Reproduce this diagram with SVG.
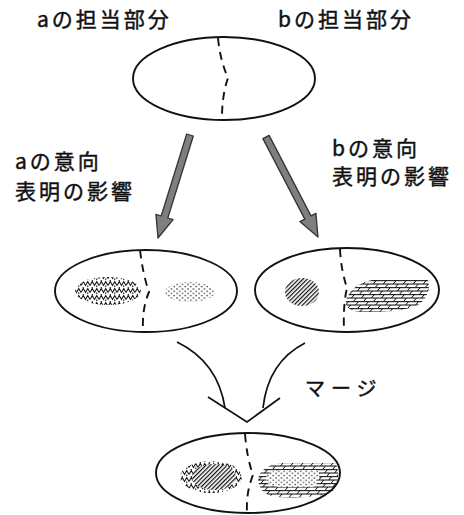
<svg xmlns="http://www.w3.org/2000/svg" width="464" height="515" viewBox="0 0 464 515">
<style>
  .lbl { font-family: "Noto Sans CJK JP", "Noto Sans", sans-serif; font-size: 21px; letter-spacing: 3px; fill: #111; stroke: #111; stroke-width: 0.45; }
  .oval { fill: none; stroke: #111; stroke-width: 1.9; }
  .split { fill: none; stroke: #111; stroke-width: 1.9; stroke-dasharray: 8 6; }
  .garrow { fill: #7f7f7f; stroke: #333; stroke-width: 1.3; stroke-linejoin: round; }
  .line { fill: none; stroke: #111; stroke-width: 1.7; }
</style>
<defs>
  <pattern id="zig" width="9" height="7" patternUnits="userSpaceOnUse">
    <path d="M0 5.5 L2.25 1.5 L4.5 5.5 L6.75 1.5 L9 5.5 M2.25 1.5 V0 M6.75 5.5 V7" fill="none" stroke="#111" stroke-width="1.1"/>
  </pattern>
  <pattern id="brick" width="10" height="7" patternUnits="userSpaceOnUse" patternTransform="skewX(-40)">
    <path d="M0 0.5 H10 M0 4 H10 M1.5 0.5 V4 M6.5 4 V7.5" fill="none" stroke="#111" stroke-width="1.1"/>
  </pattern>
  <pattern id="hatch" width="3" height="3" patternUnits="userSpaceOnUse" patternTransform="rotate(45)">
    <line x1="0.6" y1="0" x2="0.6" y2="3" stroke="#111" stroke-width="1.3"/>
  </pattern>
  <pattern id="dots" width="5.5" height="4.5" patternUnits="userSpaceOnUse">
    <circle cx="1" cy="1" r="0.75" fill="#111"/>
    <circle cx="3.75" cy="3.25" r="0.75" fill="#111"/>
  </pattern>
</defs>

<g id="label-a-part"><text class="lbl" x="37" y="27">aの担当部分</text></g>
<g id="label-b-part"><text class="lbl" x="278" y="27">bの担当部分</text></g>

<g id="node-original">
  <ellipse class="oval" cx="224" cy="78.5" rx="91" ry="41.5"/>
  <path class="split" d="M218 38 Q220 60 228 78 Q222 95 222 118"/>
</g>

<g id="label-a-influence">
  <text class="lbl" x="15" y="169">aの意向</text>
  <text class="lbl" x="15" y="199">表明の影響</text>
</g>
<g id="label-b-influence">
  <text class="lbl" x="332" y="156">bの意向</text>
  <text class="lbl" x="332" y="184">表明の影響</text>
</g>

<g id="node-a-result">
  <ellipse class="oval" cx="146" cy="291" rx="91" ry="41"/>
  <path class="split" d="M140 250 Q143 275 149 292 Q142 308 143 330"/>
  <ellipse cx="108" cy="291" rx="33" ry="14" fill="url(#zig)"/>
  <ellipse cx="190" cy="292" rx="25" ry="10" fill="url(#dots)"/>
</g>

<g id="node-b-result">
  <ellipse class="oval" cx="347" cy="290" rx="92" ry="42"/>
  <path class="split" d="M340 249 Q341 270 347 288 Q343 305 344 330"/>
  <ellipse cx="302" cy="292" rx="17" ry="14" fill="url(#hatch)"/>
  <path d="M346 300 Q352 284 372 280 L428 280 Q432 292 420 304 Q404 313 360 312 Q344 310 346 300 Z" fill="url(#brick)"/>
</g>

<g id="node-merged">
  <ellipse class="oval" cx="248" cy="473" rx="92" ry="40"/>
  <path class="split" d="M245 434 Q247 458 253 475 Q246 492 247 512"/>
  <ellipse cx="211" cy="477" rx="31" ry="16" fill="url(#zig)"/>
  <ellipse cx="214" cy="477" rx="22" ry="13" fill="#fff"/>
  <ellipse cx="214" cy="477" rx="22" ry="13" fill="url(#hatch)"/>
  <path d="M258 478 Q262 466 280 463 L336 463 Q342 480 332 492 Q316 499 276 497 Q258 494 258 478 Z" fill="url(#brick)"/>
  <path d="M266 478 Q268 470 282 470 L318 470 Q322 478 314 487 L278 487 Q266 486 266 478 Z" fill="#fff"/>
  <path d="M266 478 Q268 470 282 470 L318 470 Q322 478 314 487 L278 487 Q266 486 266 478 Z" fill="url(#dots)"/>
</g>

<g id="connectors">
  <polygon class="garrow" points="186.7,134.0 193.3,136.0 167.8,218.0 173.1,219.7 158,238 155.9,214.3 161.2,216.0"/>
  <polygon class="garrow" points="262.9,138.6 269.1,135.4 311.0,215.9 315.9,213.4 318,237 299.9,221.6 304.8,219.1"/>
  <path class="line" d="M177 342 Q218 362 225 408"/>
  <path class="line" d="M305 343 Q268 362 263 408"/>
  <path class="line" d="M208 397 L247 422 L280 398"/>
</g>

<g id="label-merge"><text class="lbl" x="305" y="396" style="font-size:20px;letter-spacing:6px">マージ</text></g>
</svg>
